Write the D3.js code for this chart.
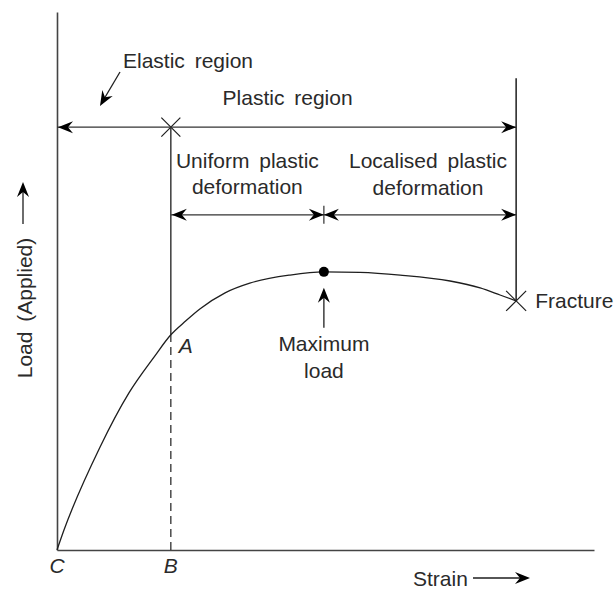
<!DOCTYPE html>
<html>
<head>
<meta charset="utf-8">
<script src="https://cdn.jsdelivr.net/npm/d3@7"></script>
<style>
  html, body { margin: 0; padding: 0; background: #fff; }
  svg { display: block; }
  text { font-family: "Liberation Sans", Arial, sans-serif; font-size: 21px; fill: #2a2a2a; word-spacing: 4px; }
</style>
</head>
<body>
<svg id="chart" width="614" height="589"></svg>
<script>
// Load–strain curve of a ductile specimen (arbitrary units, 0–100 on both axes)
const strain = [0, 1.3, 8.0, 13.4, 18.1, 21.2, 24.0, 26.6, 31.3, 35.9, 43.4, 49.7, 56.4, 63.9, 73.2, 78.8, 82.5, 85.5];
const load   = [0, 3.7, 19.1, 29.2, 35.9, 40.0, 42.6, 44.8, 47.8, 49.6, 51.1, 51.7, 51.6, 51.1, 50.0, 48.7, 47.4, 46.3];

// Key points on the curve
const pointNames  = ["C", "A", "Maximum load", "Fracture"];
const pointStrain = [0, 21.2, 49.7, 85.5];
const pointLoad   = [0, 40.0, 51.7, 46.3];

// Levels of the dimension arrows
const plasticLevel = 78.6;
const subLevel = 62.3;
const fractureLineTop = 87.7;

const svg = d3.select("#chart");
const x = d3.scaleLinear().domain([0, 100]).range([57, 594]);
const y = d3.scaleLinear().domain([0, 100]).range([550, 12]);

const ink = "#1e1e1e";

// Concave arrowhead pointing along +x, tip at origin
function arrowHead(g, px, py, angleDeg) {
  g.append("path")
    .attr("d", "M0,0 L-15,-6 L-10,0 L-15,6 Z")
    .attr("transform", `translate(${px},${py}) rotate(${angleDeg})`)
    .attr("fill", "#000");
}

// Axes (plain lines, no ticks)
const axisX = d3.axisBottom(x).tickValues([]).tickSizeOuter(0);
const axisY = d3.axisLeft(y).tickValues([]).tickSizeOuter(0);
svg.append("g").attr("transform", `translate(0,${y(0)})`).call(axisX)
  .select(".domain").attr("stroke", "#444").attr("stroke-width", 1.6);
svg.append("g").attr("transform", `translate(${x(0)},0)`).call(axisY)
  .select(".domain").attr("stroke", "#444").attr("stroke-width", 1.6);

// Curve
const line = d3.line().x((d, i) => x(strain[i])).y((d, i) => y(load[i])).curve(d3.curveMonotoneX);
svg.append("path").datum(strain).attr("d", line)
  .attr("fill", "none").attr("stroke", ink).attr("stroke-width", 1.3);

const xA = x(pointStrain[1]), yA = y(pointLoad[1]);
const xM = x(pointStrain[2]), yM = y(pointLoad[2]);
const xF = x(pointStrain[3]), yF = y(pointLoad[3]);

// Vertical through A: dashed below, solid above
svg.append("line").attr("x1", xA).attr("x2", xA).attr("y1", y(0)).attr("y2", yA)
  .attr("stroke", ink).attr("stroke-width", 1.2).attr("stroke-dasharray", "8,5");
svg.append("line").attr("x1", xA).attr("x2", xA).attr("y1", yA).attr("y2", y(plasticLevel))
  .attr("stroke", ink).attr("stroke-width", 1.3);

// Vertical at fracture
svg.append("line").attr("x1", xF).attr("x2", xF).attr("y1", y(fractureLineTop)).attr("y2", yF)
  .attr("stroke", ink).attr("stroke-width", 1.5);

// Cross marks
function cross(cx, cy, r) {
  svg.append("path").attr("d", `M${cx - r},${cy - r}L${cx + r},${cy + r}M${cx - r},${cy + r}L${cx + r},${cy - r}`)
    .attr("stroke", ink).attr("stroke-width", 1.2).attr("fill", "none");
}
cross(xA, y(plasticLevel), 9.5);
cross(xF, yF, 10);

// Plastic region dimension line
const yP = y(plasticLevel);
svg.append("line").attr("x1", x(0)).attr("x2", xF).attr("y1", yP).attr("y2", yP)
  .attr("stroke", "#333").attr("stroke-width", 1.4);
arrowHead(svg, x(0) + 1, yP, 180);
arrowHead(svg, xF, yP, 0);

// Uniform / localised dimension line
const yS = y(subLevel);
svg.append("line").attr("x1", xA).attr("x2", xF).attr("y1", yS).attr("y2", yS)
  .attr("stroke", "#333").attr("stroke-width", 1.4);
arrowHead(svg, xA + 1, yS, 180);
arrowHead(svg, xM, yS, 0);
arrowHead(svg, xM, yS, 180);
arrowHead(svg, xF, yS, 0);
svg.append("line").attr("x1", xM).attr("x2", xM).attr("y1", yS - 9).attr("y2", yS + 9)
  .attr("stroke", ink).attr("stroke-width", 1.1);

// Maximum load dot and arrow
svg.append("circle").attr("cx", xM).attr("cy", yM).attr("r", 5).attr("fill", "#000");
svg.append("line").attr("x1", xM).attr("x2", xM).attr("y1", yM + 56).attr("y2", yM + 20)
  .attr("stroke", ink).attr("stroke-width", 1.3);
arrowHead(svg, xM, yM + 16, -90);

// Elastic region pointer
svg.append("line").attr("x1", 120).attr("y1", 72).attr("x2", 104).attr("y2", 99)
  .attr("stroke", ink).attr("stroke-width", 1.3);
arrowHead(svg, 100, 106, 120);

// Labels
const t = (tx, ty, s, anchor = "middle") =>
  svg.append("text").attr("x", tx).attr("y", ty).attr("text-anchor", anchor)
    .attr("dominant-baseline", "central").text(s);

t(188, 60, "Elastic region");
t((x(0) + xF) / 2 + 1, 97, "Plastic region");
t((xA + xM) / 2 + 0, 160, "Uniform plastic");
t((xA + xM) / 2 + 0, 186, "deformation");
t((xM + xF) / 2 + 8, 160, "Localised plastic");
t((xM + xF) / 2 + 8, 187, "deformation");
t(xF + 19, yF, pointNames[3], "start");
t(xM, 343, "Maximum");
t(xM, 370, "load");
t(xA + 15, yA + 11, "A").attr("font-style", "italic");
t(x(0), 565, "C").attr("font-style", "italic");
t(xA, 565, "B").attr("font-style", "italic");
t(413, 578, "Strain", "start");

// Strain arrow
svg.append("line").attr("x1", 473).attr("x2", 522).attr("y1", 578).attr("y2", 578)
  .attr("stroke", ink).attr("stroke-width", 1.3);
arrowHead(svg, 530, 578, 0);

// Load axis title with arrow
svg.append("text").attr("transform", "translate(24,308) rotate(-90)")
  .attr("text-anchor", "middle").attr("dominant-baseline", "central").text("Load (Applied)");
svg.append("line").attr("x1", 23).attr("x2", 23).attr("y1", 224).attr("y2", 190)
  .attr("stroke", ink).attr("stroke-width", 1.3);
arrowHead(svg, 23, 182, -90);
</script>
</body>
</html>
